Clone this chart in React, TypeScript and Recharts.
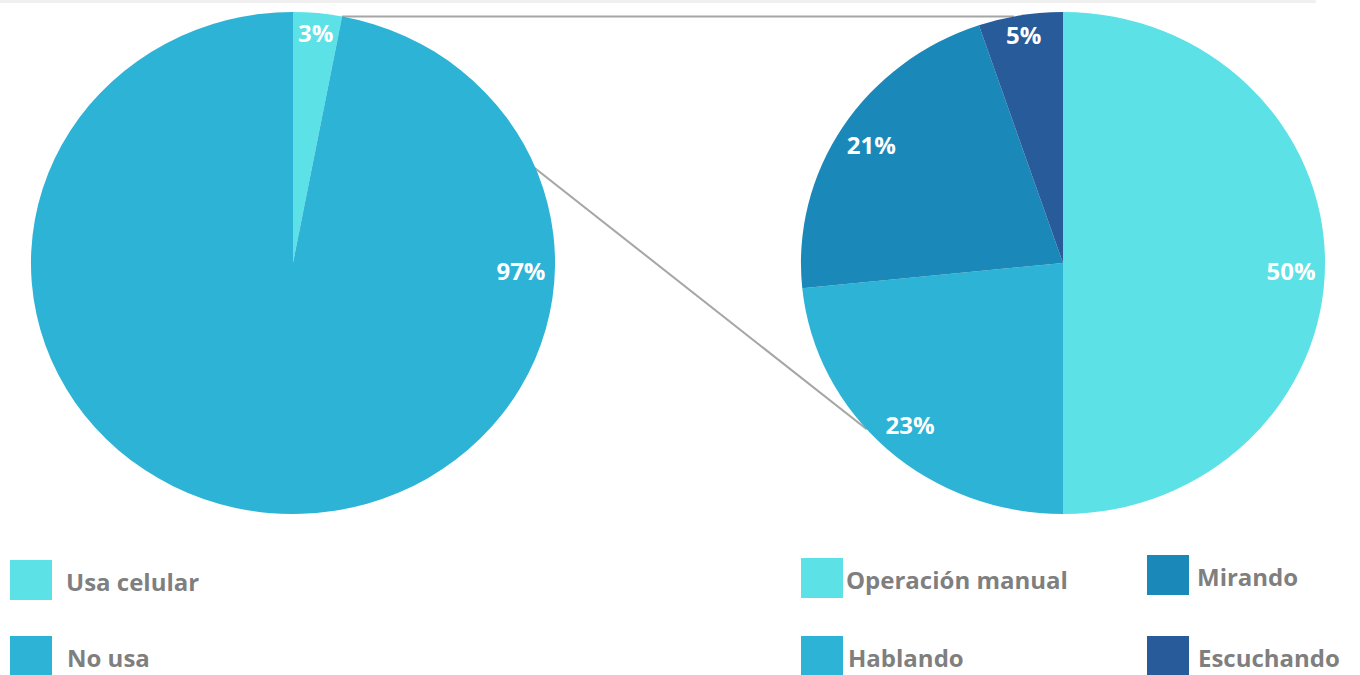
import { PieChart, Pie, Cell, Customized } from "recharts";

// left pie: uses the phone or not
const useNames = ["Usa celular", "No usa"];
const useValues = [3, 97];

// right pie: breakdown of phone use (labels are rounded)
const detailNames = ["Operación manual", "Hablando", "Mirando", "Escuchando"];
const detailValues = [50, 23.4, 21.4, 5.2];

const useColors = ["#5ce1e6", "#2cb3d5"];
const detailColors = ["#5ce1e6", "#2cb3d5", "#1a88b9", "#285b9a"];

const useData = useNames.map((name, i) => ({ name, value: useValues[i] }));
const detailData = detailNames.map((name, i) => ({ name, value: detailValues[i] }));

// the pies in the picture are a bit wider than tall
const SX = 1.044;
const W = 1360 / SX;
const H = 530;
const R = 251;
const LEFT = { cx: 293 / SX, cy: 263 };
const RIGHT = { cx: 1063 / SX, cy: 263 };
const LINE_COLOR = "#a6a6a6";
const TEXT_GRAY = "#7f7f7f";
const FONT = "'Open Sans', 'DejaVu Sans', sans-serif";

const RAD = Math.PI / 180;

const renderLabel = (props: any) => {
  const { cx, cy, midAngle, outerRadius, value, percent } = props;
  // Excel "best fit" puts the big slice label on the right side
  const angle = percent > 0.9 ? 0 : midAngle;
  // thin slices get their label pushed toward the rim
  const r = outerRadius * (percent < 0.1 ? 0.92 : 0.87);
  const s = Math.sin(-angle * RAD);
  const x = cx + r * Math.cos(-angle * RAD);
  const y = cy + r * s + (Math.abs(s) < 0.05 ? 8 : 0);
  return (
    <text
      x={x}
      y={y}
      fill="#ffffff"
      textAnchor="middle"
      dominantBaseline="central"
      fontFamily={FONT}
      fontWeight={700}
      fontSize={23}
    >
      {`${Math.round(value)}%`}
    </text>
  );
};

// connector lines from the small slice to the second pie
const Connectors = () => {
  const total = useValues.reduce((a, b) => a + b, 0);
  const edgeAngle = 90 - (360 * useValues[0]) / total;
  const sx = LEFT.cx + R * Math.cos(edgeAngle * RAD);
  const sy = LEFT.cy - R * Math.sin(edgeAngle * RAD);
  const dy = RIGHT.cy - sy;
  const tx = RIGHT.cx - Math.sqrt(Math.max(R * R - dy * dy, 0));
  const bottomAngle = 221.5;
  const bx = RIGHT.cx + R * Math.cos(bottomAngle * RAD);
  const by = RIGHT.cy - R * Math.sin(bottomAngle * RAD);
  return (
    <g>
      <line x1={sx} y1={sy} x2={tx} y2={sy} stroke={LINE_COLOR} strokeWidth={2} />
      <line x1={sx} y1={sy} x2={bx} y2={by} stroke={LINE_COLOR} strokeWidth={2} />
    </g>
  );
};

const LegendItem = ({ color, label, left, top, textLeft }: any) => (
  <>
    <div
      style={{
        position: "absolute",
        left,
        top,
        width: 42,
        height: 40,
        background: color,
      }}
    />
    <div
      style={{
        position: "absolute",
        left: textLeft,
        top: top + 21,
        transform: "translateY(-50%)",
        color: TEXT_GRAY,
        fontFamily: FONT,
        fontWeight: 700,
        fontSize: 24,
        whiteSpace: "nowrap",
      }}
    >
      {label}
    </div>
  </>
);

const App = () => {
  return (
    <div
      style={{
        position: "absolute",
        left: 0,
        top: 0,
        width: 1360,
        height: 675,
        background: "#ffffff",
        overflow: "hidden",
      }}
    >
      <div style={{ position: "absolute", left: 0, top: 0, width: 1316, height: 3, background: "#f0f0f0" }} />
      <div
        style={{
          position: "absolute",
          left: 0,
          top: 0,
          width: W,
          height: H,
          transform: `scaleX(${SX})`,
          transformOrigin: "0 0",
        }}
      >
        <PieChart width={W} height={H} margin={{ top: 0, right: 0, bottom: 0, left: 0 }}>
          <Customized component={Connectors} />
          <Pie
            data={useData}
            dataKey="value"
            nameKey="name"
            cx={LEFT.cx}
            cy={LEFT.cy}
            outerRadius={R}
            startAngle={90}
            endAngle={-270}
            stroke="none"
            label={renderLabel}
            labelLine={false}
            isAnimationActive={false}
          >
            {useData.map((d, i) => (
              <Cell key={d.name} fill={useColors[i]} />
            ))}
          </Pie>
          <Pie
            data={detailData}
            dataKey="value"
            nameKey="name"
            cx={RIGHT.cx}
            cy={RIGHT.cy}
            outerRadius={R}
            startAngle={90}
            endAngle={-270}
            stroke="none"
            label={renderLabel}
            labelLine={false}
            isAnimationActive={false}
          >
            {detailData.map((d, i) => (
              <Cell key={d.name} fill={detailColors[i]} />
            ))}
          </Pie>
        </PieChart>
      </div>
      <LegendItem color={useColors[0]} label={useNames[0]} left={10} top={560} textLeft={66} />
      <LegendItem color={useColors[1]} label={useNames[1]} left={10} top={636} textLeft={67} />
      <LegendItem color={detailColors[0]} label={detailNames[0]} left={801} top={558} textLeft={846} />
      <LegendItem color={detailColors[1]} label={detailNames[1]} left={801} top={636} textLeft={848} />
      <LegendItem color={detailColors[2]} label={detailNames[2]} left={1147} top={555} textLeft={1197} />
      <LegendItem color={detailColors[3]} label={detailNames[3]} left={1147} top={636} textLeft={1198} />
    </div>
  );
};

export default App;
